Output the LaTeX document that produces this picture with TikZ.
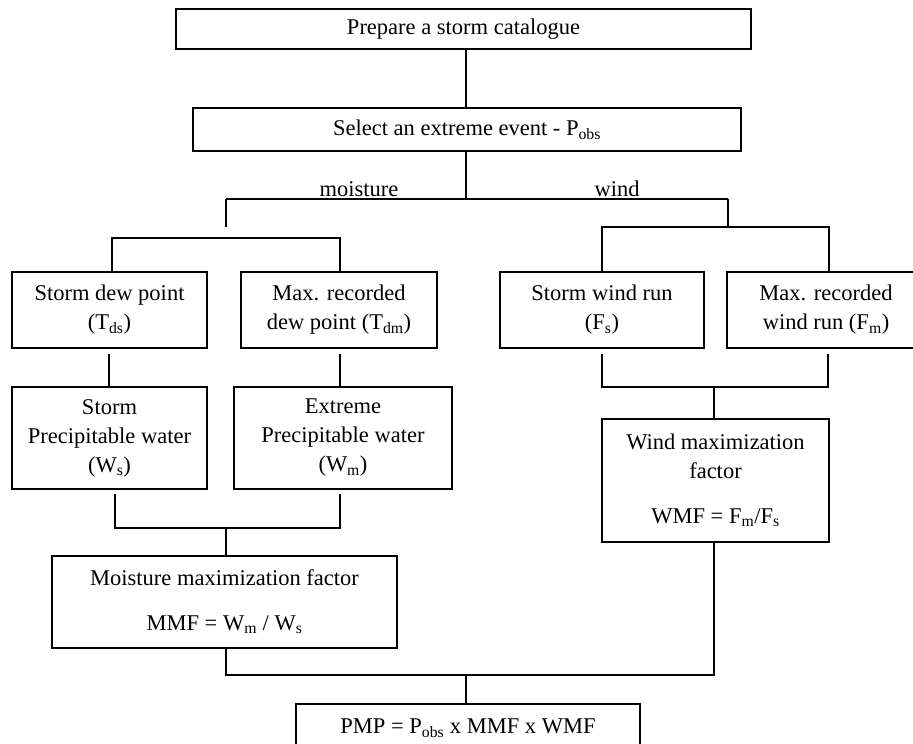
\documentclass[tikz,border=0pt]{standalone}
\usepackage{fontspec}
\setmainfont{Liberation Serif}
\begin{document}
\begin{tikzpicture}[x=1pt,y=-1pt,
  box/.style={draw,line width=1.4pt,inner sep=0pt,align=center,
    font=\fontsize{22.5}{29}\selectfont},
  lbl/.style={inner sep=0pt,font=\fontsize{22.5}{29}\selectfont},
  ln/.style={line width=1.4pt}]
\useasboundingbox (0,0) rectangle (913,744);
\clip (0,0) rectangle (913,744);
\fill[white] (0,0) rectangle (913,744);
% boxes
\node[box,minimum width=575pt,minimum height=40pt] (prep) at (463.5,29) {Prepare a storm catalogue};
\node[box,minimum width=548pt,minimum height=43pt] (sel) at (467,129.5) {Select an extreme event - P\textsubscript{obs}};
\node[box,minimum width=195pt,minimum height=76pt] (tds) at (109.5,310) {Storm dew point\\(T\textsubscript{ds})};
\node[box,minimum width=196pt,minimum height=76pt] (tdm) at (339,310) {Max. recorded\\dew point (T\textsubscript{dm})};
\node[box,minimum width=204pt,minimum height=76pt] (fs) at (602,310) {Storm wind run\\(F\textsubscript{s})};
\node[box,minimum width=198pt,minimum height=76pt] (fm) at (826,310) {Max. recorded\\wind run (F\textsubscript{m})};
\node[box,minimum width=195pt,minimum height=102pt] (ws) at (109.5,438) {Storm\\Precipitable water\\(W\textsubscript{s})};
\node[box,minimum width=218pt,minimum height=102pt] (wm) at (343,438) {Extreme\\Precipitable water\\(W\textsubscript{m})};
\node[box,minimum width=227pt,minimum height=123pt] (wmf) at (715.5,480.5) {Wind maximization\\factor\\[16pt]WMF = F\textsubscript{m}/F\textsubscript{s}};
\node[box,minimum width=345pt,minimum height=92pt] (mmf) at (224.5,602) {Moisture maximization factor\\[16pt]MMF = W\textsubscript{m} / W\textsubscript{s}};
\node[box,minimum width=344pt,minimum height=48pt] (pmp) at (468,728) {PMP = P\textsubscript{obs} x MMF x WMF};
% labels
\node[lbl,anchor=base] (lm) at (359,196) {moisture};
\node[lbl,anchor=base] (lw) at (617,196) {wind};
% junction coordinates
\coordinate (mj) at (226,199);
\coordinate (wj) at (728,199);
\coordinate (mjb) at (226,227);
\coordinate (wjb) at (728,227);
\coordinate (ml) at (112,238);
\coordinate (mr) at (340,238);
\coordinate (wl) at (602,227);
\coordinate (wr) at (829,227);
\coordinate (wl2) at (602,387);
\coordinate (wr2) at (828,387);
\coordinate (wc2) at (714,387);
\coordinate (ml3) at (115,528);
\coordinate (mr3) at (340,528);
\coordinate (mc3) at (226,528);
\coordinate (bl) at (226,675);
\coordinate (br) at (714,675);
\coordinate (bc) at (466,675);
% connectors
\draw[ln] (prep.south -| 466,0) -- (sel.north -| 466,0);
\draw[ln] (sel.south -| 466,0) -- (466,199);
\draw[ln] (mj) -- (wj);
\draw[ln] (mj) -- (mjb);
\draw[ln] (wj) -- (wjb);
\draw[ln] (tds.north -| ml) -- (ml) -- (mr) -- (tdm.north -| mr);
\draw[ln] (fs.north -| wl) -- (wl) -- (wr) -- (fm.north -| wr);
\draw[ln] ([yshift=-5pt]tds.south -| 109,0) -- (ws.north -| 109,0);
\draw[ln] ([yshift=-5pt]tdm.south -| mr) -- (wm.north -| mr);
\draw[ln] ([yshift=-5pt]fs.south -| wl) -- (wl2) -- (wr2) -- ([yshift=-5pt]fm.south -| wr2);
\draw[ln] (wc2) -- (wmf.north -| wc2);
\draw[ln] ([yshift=-4pt]ws.south -| ml3) -- (ml3) -- (mr3) -- ([yshift=-4pt]wm.south -| mr3);
\draw[ln] (mc3) -- (mmf.north -| mc3);
\draw[ln] (mmf.south -| bl) -- (bl) -- (br) -- (wmf.south -| br);
\draw[ln] (bc) -- (pmp.north -| bc);
\end{tikzpicture}
\end{document}
